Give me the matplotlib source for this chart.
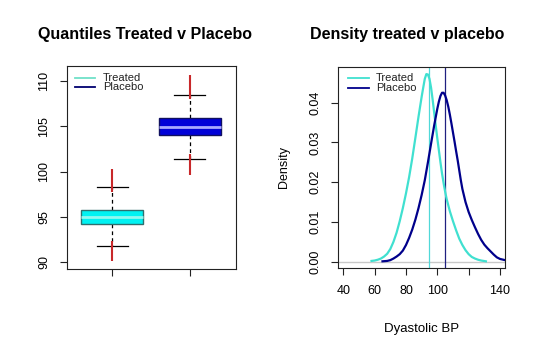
import matplotlib
matplotlib.use("Agg")
import matplotlib.pyplot as plt

plt.rcParams['font.family'] = ['Liberation Sans', 'DejaVu Sans']

# ---- data: quantile boxes ----
groups = ["Treated", "Placebo"]
q_low = [94.2, 104.0]
q_med = [95.0, 104.95]
q_high = [95.8, 105.9]
whisk_low = [91.8, 101.4]
whisk_high = [98.3, 108.5]
red_up_from = [97.8, 108.0]
red_up_to = [100.3, 110.7]
red_lo_from = [90.1, 99.6]
red_lo_to = [92.3, 101.9]
box_fill = ["#00F2F2", "#0000D8"]
box_edge = ["#2F6F6F", "#101060"]
med_color = ["#8FF8F0", "#A8A8FF"]

# ---- data: densities ----
treated_x = [58, 60, 62, 64, 66, 68, 70, 72, 74, 76, 78, 80, 82, 84, 86, 88, 90, 91,
             92, 93, 94, 95, 96, 97, 98, 99, 100, 101, 102, 103, 104, 105, 106, 108,
             110, 112, 114, 116, 118, 120, 122, 124, 126, 128, 131]
treated_d = [0.0002, 0.0003, 0.0005, 0.0008, 0.0013, 0.0020, 0.0032, 0.0050, 0.0073,
             0.0102, 0.0135, 0.0172, 0.0213, 0.0260, 0.0312, 0.0365, 0.0415, 0.0438,
             0.0460, 0.0472, 0.0471, 0.0460, 0.0438, 0.0408, 0.0375, 0.0342, 0.0310,
             0.0280, 0.0250, 0.0222, 0.0198, 0.0176, 0.0157, 0.0127, 0.0102, 0.0079,
             0.0058, 0.0042, 0.0029, 0.0019, 0.0012, 0.0008, 0.0005, 0.0003, 0.0001]
placebo_x = [65, 68, 70, 72, 74, 76, 78, 80, 82, 84, 86, 88, 90, 92, 94, 96, 98, 100,
             101, 102, 103, 104, 105, 106, 107, 108, 109, 110, 111, 112, 113, 114, 115,
             116, 118, 120, 122, 124, 126, 128, 130, 132, 134, 136, 138, 140, 143.2]
placebo_d = [0.0001, 0.0002, 0.0004, 0.0008, 0.0013, 0.0019, 0.0028, 0.0042, 0.0060,
             0.0081, 0.0106, 0.0135, 0.0168, 0.0205, 0.0250, 0.0297, 0.0343, 0.0385,
             0.0403, 0.0417, 0.0425, 0.0425, 0.0418, 0.0406, 0.0390, 0.0370, 0.0348,
             0.0325, 0.0302, 0.0278, 0.0255, 0.0230, 0.0205, 0.0183, 0.0150, 0.0125,
             0.0105, 0.0087, 0.0070, 0.0055, 0.0043, 0.0034, 0.0026, 0.0018, 0.0011,
             0.0007, 0.0004]
mean_lines = [94.8, 104.6]
curve_colors = ["#40E0D0", "#00008B"]

left_yticks = [90, 95, 100, 105, 110]
right_xticks = [40, 60, 80, 100, 120, 140]
right_xticklabels = ["40", "60", "80", "100", "", "140"]
right_yticks = [0.00, 0.01, 0.02, 0.03, 0.04]
right_yticklabels = ["0.00", "0.01", "0.02", "0.03", "0.04"]

W, H = 540, 353
fig = plt.figure(figsize=(W / 100, H / 100), dpi=100)

def frac(x0, y0, x1, y1):
    return [x0 / W, 1 - y1 / H, (x1 - x0) / W, (y1 - y0) / H]

ax1 = fig.add_axes(frac(67, 66, 235.7, 269.3))
ax2 = fig.add_axes(frac(338, 66.7, 505, 268))

tick_fs = 9
for ax in (ax1, ax2):
    for s in ax.spines.values():
        s.set_linewidth(0.8)
        s.set_color("#222222")
    ax.tick_params(direction="out", length=5, width=0.8, labelsize=tick_fs,
                   color="#222222", pad=7)

# ---- left panel ----
stats = []
for i in range(2):
    stats.append(dict(med=q_med[i], q1=q_low[i], q3=q_high[i],
                      whislo=whisk_low[i], whishi=whisk_high[i], label=groups[i]))
pos = [1, 2]
bp = ax1.bxp(stats, positions=pos, widths=0.79, patch_artist=True, showfliers=False,
             capwidths=0.4, manage_ticks=False,
             whiskerprops=dict(linestyle=(0, (3, 2.5)), linewidth=0.9, color="black"),
             capprops=dict(linewidth=0.9, color="black"))
for i, b in enumerate(bp["boxes"]):
    b.set_facecolor(box_fill[i])
    b.set_edgecolor(box_edge[i])
    b.set_linewidth(1.0)
    b.set_zorder(3)
for i, m in enumerate(bp["medians"]):
    m.set_color(med_color[i])
    m.set_linewidth(2.0)
    m.set_zorder(4)
    m.set_xdata([pos[i] - 0.395, pos[i] + 0.395])
ax1.vlines(pos, red_up_from, red_up_to, color="#C8282A", linewidth=1.5, zorder=2)
ax1.vlines(pos, red_lo_from, red_lo_to, color="#C8282A", linewidth=1.5, zorder=2)
ax1.set_xlim(0.42, 2.59)
ax1.set_ylim(89.23, 111.66)
ax1.set_xticks(pos)
ax1.set_xticklabels(["", ""])
ax1.set_yticks(left_yticks)
ax1.set_yticklabels([str(v) for v in left_yticks], rotation=90, va="center")

leg_cols_left = ["#70E0C8", "#000070"]
for i, g in enumerate(groups):
    yy = [0.942, 0.897][i]
    ax1.plot([0.047, 0.166], [yy, yy], transform=ax1.transAxes, color=leg_cols_left[i],
             linewidth=1.3, clip_on=False)
    ax1.text(0.213, yy, g, transform=ax1.transAxes, fontsize=8, va="center", ha="left",
             color="#222222")

# ---- right panel ----
ax2.axhline(0, color="#C8C8C8", linewidth=1.0, zorder=1)
ax2.plot(treated_x, treated_d, color=curve_colors[0], linewidth=1.6, zorder=3)
ax2.plot(placebo_x, placebo_d, color=curve_colors[1], linewidth=1.6, zorder=3)
ax2.axvline(mean_lines[0], color="#50D8D8", linewidth=0.9, zorder=2)
ax2.axvline(mean_lines[1], color="#202080", linewidth=0.9, zorder=2)
ax2.set_xlim(36.6, 143.2)
ax2.set_ylim(-0.00158, 0.04906)
ax2.set_xticks(right_xticks)
ax2.set_xticklabels(right_xticklabels)
ax2.set_yticks(right_yticks)
ax2.set_yticklabels(right_yticklabels, rotation=90, va="center")
ax2.set_ylabel("Density", fontsize=9, labelpad=14)
ax2.set_xlabel("Dyastolic BP", fontsize=9.5, labelpad=19)

for i, g in enumerate(groups):
    yy = [0.945, 0.894][i]
    ax2.plot([0.060, 0.186], [yy, yy], transform=ax2.transAxes, color=curve_colors[i],
             linewidth=1.3, clip_on=False)
    ax2.text(0.226, yy, g, transform=ax2.transAxes, fontsize=8, va="center", ha="left",
             color="#222222")

fig.text(145 / W, 1 - 35 / H, "Quantiles Treated v Placebo", fontsize=11.5,
         fontweight="bold", ha="center", va="center")
fig.text(406.7 / W, 1 - 35 / H, "Density treated v placebo", fontsize=11.5,
         fontweight="bold", ha="center", va="center")

fig.savefig("out.png", dpi=100)
